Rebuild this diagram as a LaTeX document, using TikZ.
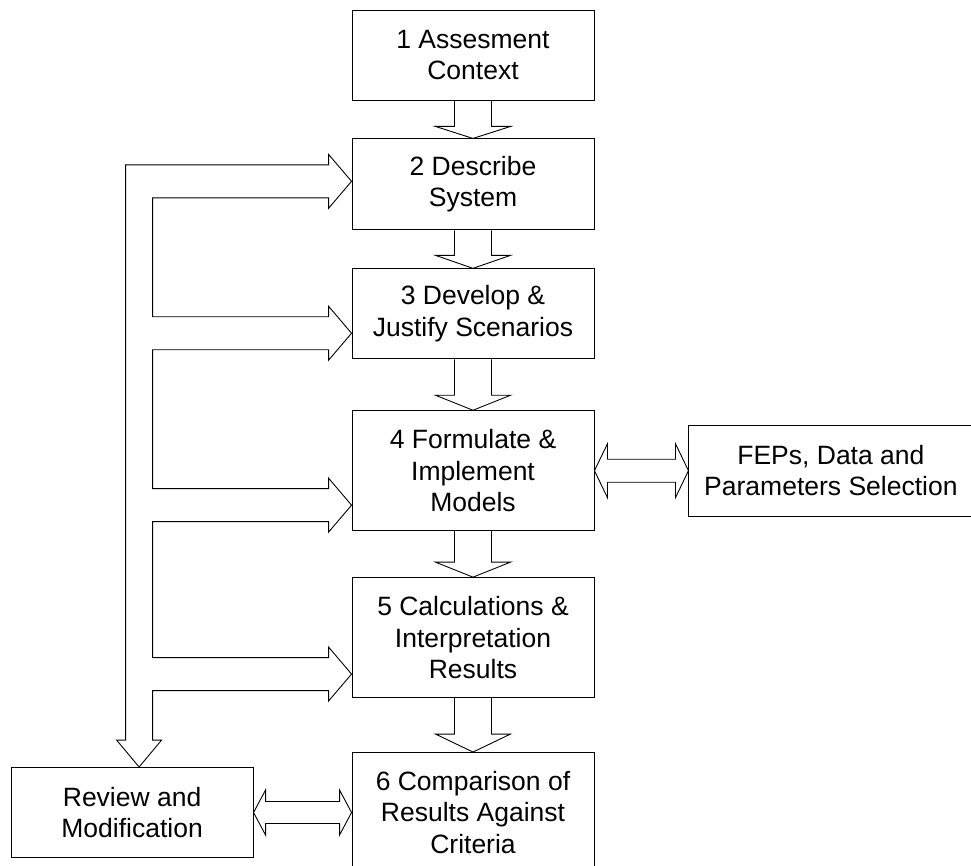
\documentclass[tikz,border=0pt]{standalone}
\usepackage{fontspec}
\setmainfont{Liberation Sans}
\usetikzlibrary{calc,positioning}

\begin{document}
\begin{tikzpicture}[x=1pt, y=-1pt,
node distance= 38pt and 94pt,
box/.style   = {minimum height=#1, minimum width=242pt,
                draw, line width=0.9pt, inner sep=0pt, align=center,
                font=\fontsize{26.5}{31.5}\selectfont},
Block/.style = {draw, line width=0.9pt, line join=miter},
                    ]
\clip (0,0) rectangle (971,866);
\node[box=90pt] at (473,55)         (b1) {1 Assesment\\Context};
\node[box=91pt, below=of b1]        (b2) {2 Describe\\System};
\node[box=90pt, below=of b2]        (b3) {3 Develop \&\\Justify Scenarios};
\node[box=120pt, below=51pt of b3]  (b4) {4 Formulate \&\\Implement\\Models};
\node[box=120pt, below=46pt of b4]  (b5) {5 Calculations \&\\Interpretation\\Results};
\node[box=120pt, below=54pt of b5]  (b6) {6 Comparison of\\Results Against\\Criteria};
\node[box=91pt, minimum width=284pt, right=of b4] (fep) {FEPs, Data and\\Parameters Selection};
\node[box=90pt, left=98pt of b6]    (rev) {Review and\\Modification};

\foreach \a/\b/\l in {b1/b2/12, b2/b3/13, b3/b4/15, b4/b5/15, b5/b6/18}
  \draw[Block] ($(\a.south)+(-18.5,0)$) -- ($(\b.north)+(-18.5,-\l)$) -- ++(-19,0) -- (\b.north)
               -- ($(\b.north)+(37.5,-\l)$) -- ++(-19,0) -- ($(\a.south)+(18.5,0)$);

% feedback loop
\coordinate (t2) at ($(b2.south west)+(0,-49)$);
\coordinate (t3) at ($(b3.south west)+(0,-26)$);
\coordinate (t4) at ($(b4.south west)+(0,-26)$);
\coordinate (t5) at ($(b5.south west)+(0,-24)$);
\coordinate (t6) at ($(rev.north)+(7,0)$);
\coordinate (o)  at ($(t6)+(-13.5,0)$);
\coordinate (i)  at ($(t6)+(13.5,0)$);
\foreach \n in {2,...,5} {
  \coordinate (u\n) at ($(t\n)+(-23,-16.5)$);
  \coordinate (d\n) at ($(t\n)+(-23,16.5)$);
}
\draw[Block] (o |- u2) -- (u2) -- ++(0,-10.5) -- (t2) -- ($(d2)+(0,10.5)$) -- (d2)
  -| (i |- u3) -- (u3) -- ++(0,-10.5) -- (t3) -- ($(d3)+(0,10.5)$) -- (d3)
  -| (i |- u4) -- (u4) -- ++(0,-10.5) -- (t4) -- ($(d4)+(0,10.5)$) -- (d4)
  -| (i |- u5) -- (u5) -- ++(0,-10.5) -- (t5) -- ($(d5)+(0,10.5)$) -- (d5)
  -| ($(t6)+(13.5,-27)$) -- ++(9,0) -- (t6) -- ++(-22.5,-27) -- ++(9,0) -- cycle;

\draw[Block] (b4.east) -- ++(13,-27) -- ++(0,15.5) -- ($(fep.west)+(-13,-11.5)$) -- ++(0,-15.5)
  -- (fep.west) -- ++(-13,27) -- ++(0,-15.5) -- ($(b4.east)+(13,11.5)$) -- ++(0,15.5) -- cycle;
\draw[Block] (rev.east) -- ++(12,-22.5) -- ++(0,11.5) -- ($(b6.west)+(-12,-11)$) -- ++(0,-11.5)
  -- (b6.west) -- ++(-12,22.5) -- ++(0,-11.5) -- ($(rev.east)+(12,11)$) -- ++(0,11.5) -- cycle;
\end{tikzpicture}
\end{document}
